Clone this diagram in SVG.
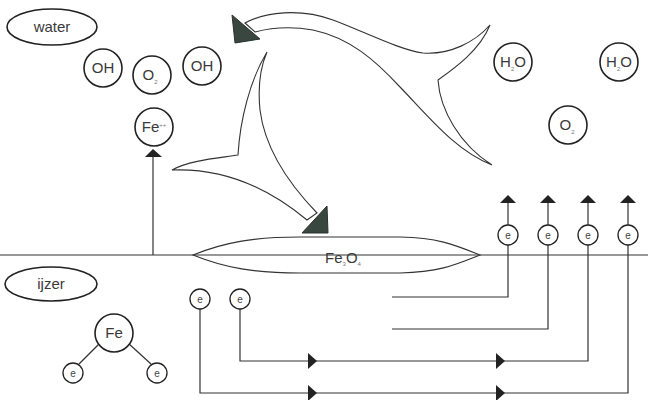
<svg xmlns="http://www.w3.org/2000/svg" width="648" height="400" viewBox="0 0 648 400">
  <defs>
    <style>
      .ln { fill: none; stroke: #333; stroke-width: 1.2; }
      .atom { fill: #fff; stroke: #222; stroke-width: 1.6; }
      .el { fill: #fff; stroke: #222; stroke-width: 1.3; }
      .lbl { font-family: "Liberation Sans", "DejaVu Sans", sans-serif; font-size: 15px; fill: #3a3a3a; text-anchor: middle; }
      .sm { font-family: "Liberation Sans", "DejaVu Sans", sans-serif; font-size: 10px; fill: #444; text-anchor: middle; }
      .sub { font-size: 6px; fill: #777; }
      .head { fill: #222; }
      .flow { fill: #fff; stroke: #333; stroke-width: 1.1; }
      .tri { fill: #3a4640; stroke: #2a332f; stroke-width: 1; }
    </style>
  </defs>

  <rect width="648" height="400" fill="#fff"/>

  <!-- metal surface with oxide lens -->
  <g id="surface">
    <line class="ln" x1="0" y1="255" x2="648" y2="255"/>
    <path class="ln" d="M193 255 C225 242 255 237 300 237 L400 237 C440 238 455 245 480 255 C455 265 440 272 400 273 L300 273 C255 273 225 268 193 255 Z" fill="#fff"/>
    <text class="lbl" x="343" y="263">Fe<tspan class="sub" dy="3">3</tspan><tspan dy="-3">O</tspan><tspan class="sub" dy="3">4</tspan></text>
  </g>

  <!-- region labels -->
  <g id="water">
    <ellipse class="atom" cx="52" cy="27" rx="45" ry="18"/>
    <text class="lbl" x="52" y="32">water</text>
  </g>
  <g id="ijzer">
    <ellipse class="atom" cx="51" cy="284" rx="46" ry="17"/>
    <text class="lbl" x="51" y="289">ijzer</text>
  </g>

  <!-- dissolved species -->
  <g id="oh1"><circle class="atom" cx="103" cy="68" r="19"/><text class="lbl" x="103" y="73">OH</text></g>
  <g id="o2a"><circle class="atom" cx="152" cy="75" r="19"/><text class="lbl" x="150" y="80">O<tspan class="sub" dy="4">2</tspan></text></g>
  <g id="oh2"><circle class="atom" cx="202" cy="66" r="19"/><text class="lbl" x="202" y="71">OH</text></g>
  <g id="fe2"><circle class="atom" cx="154" cy="127" r="19"/><text class="lbl" x="154" y="132">Fe<tspan class="sub" dy="-5">++</tspan></text></g>
  <g id="h2o1"><circle class="atom" cx="513" cy="62" r="19"/><text class="lbl" x="513" y="67">H<tspan class="sub" dy="4">2</tspan><tspan dy="-4">O</tspan></text></g>
  <g id="h2o2"><circle class="atom" cx="619" cy="62" r="19"/><text class="lbl" x="619" y="67">H<tspan class="sub" dy="4">2</tspan><tspan dy="-4">O</tspan></text></g>
  <g id="o2b"><circle class="atom" cx="568" cy="125" r="19"/><text class="lbl" x="567" y="130">O<tspan class="sub" dy="4">2</tspan></text></g>

  <!-- iron atom releasing electrons -->
  <g id="fe">
    <line class="ln" x1="100" y1="343" x2="79" y2="364"/>
    <line class="ln" x1="128" y1="343" x2="151" y2="364"/>
    <circle class="atom" cx="114" cy="333" r="19"/>
    <text class="lbl" x="114" y="338">Fe</text>
    <circle class="el" cx="73" cy="373" r="10"/><text class="sm" x="73" y="377">e</text>
    <circle class="el" cx="157" cy="373" r="10"/><text class="sm" x="157" y="377">e</text>
  </g>

  <!-- connectors: ion and electron paths -->
  <g id="connectors">
    <line class="ln" x1="153" y1="156" x2="153" y2="255"/>
    <polygon class="head" points="145,157 153,149 162,157"/>

    <path class="ln" d="M200 309 V393 H628 V245"/>
    <path class="ln" d="M240 309 V361 H588 V245"/>
    <path class="ln" d="M392 329 H548 V245"/>
    <path class="ln" d="M392 297 H508 V245"/>

    <polygon class="head" points="308,353 317,361 308,369"/>
    <polygon class="head" points="496,353 505,361 496,369"/>
    <polygon class="head" points="308,385 317,393 308,401"/>
    <polygon class="head" points="496,385 505,393 496,401"/>

    <line class="ln" x1="508" y1="225" x2="508" y2="202"/>
    <line class="ln" x1="548" y1="225" x2="548" y2="202"/>
    <line class="ln" x1="588" y1="225" x2="588" y2="202"/>
    <line class="ln" x1="628" y1="225" x2="628" y2="202"/>
    <polygon class="head" points="500,203 508,195 516,203"/>
    <polygon class="head" points="540,203 548,195 556,203"/>
    <polygon class="head" points="580,203 588,195 596,203"/>
    <polygon class="head" points="620,203 628,195 636,203"/>
  </g>

  <!-- electrons -->
  <g id="e1"><circle class="el" cx="508" cy="235" r="10"/><text class="sm" x="508" y="239">e</text></g>
  <g id="e2"><circle class="el" cx="548" cy="235" r="10"/><text class="sm" x="548" y="239">e</text></g>
  <g id="e3"><circle class="el" cx="588" cy="235" r="10"/><text class="sm" x="588" y="239">e</text></g>
  <g id="e4"><circle class="el" cx="628" cy="235" r="10"/><text class="sm" x="628" y="239">e</text></g>
  <g id="e5"><circle class="el" cx="200" cy="299" r="10"/><text class="sm" x="200" y="303">e</text></g>
  <g id="e6"><circle class="el" cx="240" cy="299" r="10"/><text class="sm" x="240" y="303">e</text></g>

  <!-- curved flow arrows -->
  <g id="flow-up">
    <path class="flow" d="M245 23 C265 12 300 8 333 20 C365 32 400 50 423 53 C450 55 475 42 490 25 C480 50 455 68 438 80 C440 110 460 145 492 165 C455 150 430 118 400 87 C375 60 350 38 313 30 C290 26 270 28 255 32 Z"/>
    <polygon class="tri" points="232,15 235,43 260,39"/>
  </g>
  <g id="flow-down">
    <path class="flow" d="M267 52 C250 80 240 120 238 155 C220 158 190 160 172 170 C220 168 265 185 307 220 L317 213 C290 185 265 150 260 110 C258 90 260 68 267 52 Z"/>
    <polygon class="tri" points="302,233 327,206 328,233"/>
  </g>
</svg>
